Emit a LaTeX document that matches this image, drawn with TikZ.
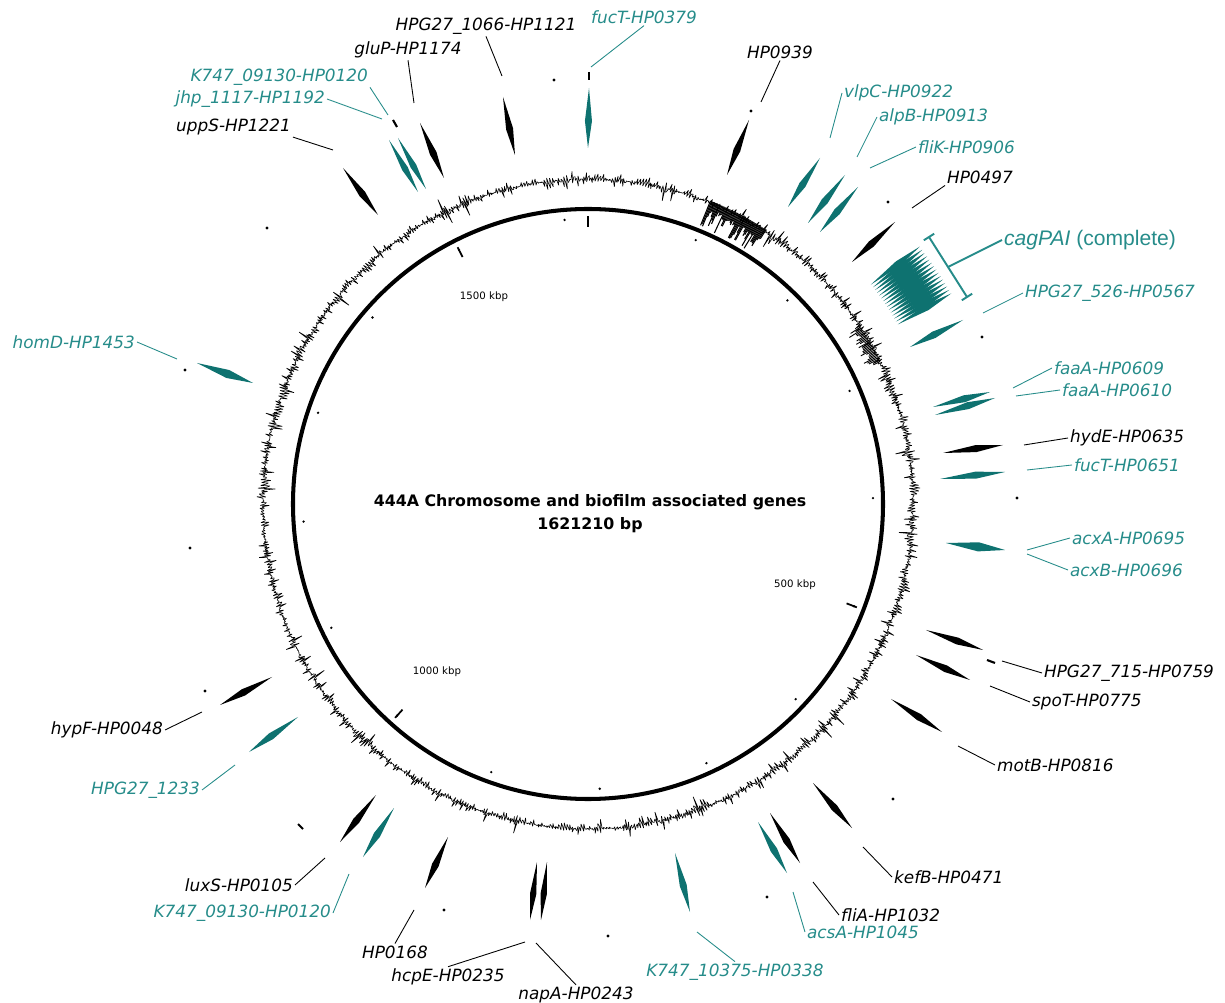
\documentclass[tikz,border=0pt]{standalone}
\usepackage{fontspec}
\setmainfont{DejaVu Sans}[ItalicFont={* Oblique},BoldItalicFont={* Bold Oblique}]
\newfontfamily\cagfont{Liberation Sans}
\usetikzlibrary{calc}
\definecolor{gteal}{RGB}{38,140,138}
\definecolor{gtealdk}{RGB}{14,114,112}
\tikzset{
  lbl/.style={font=\fontsize{9.6}{11}\selectfont\itshape,inner sep=1pt},
  ld/.style={line width=0.5pt},
  gcl/.style={line width=0.35pt,line join=bevel},
  kb/.style={font=\fontsize{5.8}{7}\selectfont,inner sep=0pt},
}
% one gene: colour, end A, end B, half width
\newcommand\gene[4][black]{%
  \fill[#1] (#2) -- ($(#2)!0.55!(#3)!#4!90:(#3)$) -- (#3)
    -- ($(#2)!0.55!(#3)!#4!-90:(#3)$) -- cycle;}

\begin{document}
\begin{tikzpicture}[x=0.02cm,y=-0.02cm]
\useasboundingbox (0,0) rectangle (1225,1003);

% backbone, scale marks and GC plot
\begin{scope}[shift={(588,504)}]
  \draw[line width=2.3pt] (0,0) circle[radius=295];
  \foreach \k in {1,...,16}{\fill ({270+\k*22.205}:285) circle[radius=1.3];}
  \foreach \k in {0,5,10,15}{\draw[line width=1pt] ({270+\k*22.205}:277) -- ({270+\k*22.205}:288);}
  \pgfmathsetseed{1621}
  \def\hp{0}
  \foreach \a in {0,0.5,...,359.5}{
    \pgfmathsetmacro\h{rand*(5+13*rnd*rnd)}
    \draw[gcl] (\a:{325+\hp}) -- ({\a+0.25}:{325+\h}) -- ({\a+0.25}:{325-0.45*\h})
      -- ({\a+0.5}:{325+0.3*\h});
    \pgfmathsetmacro\hp{0.3*\h}
    \xdef\hp{\hp}
  }
  \foreach \a in {292,292.2,...,303}{
    \pgfmathsetmacro\h{6+20*rnd}
    \draw[gcl,line width=0.6pt] (\a:327) -- (\a:{325-\h});
  }
  \foreach \a in {327,327.25,...,334}{
    \pgfmathsetmacro\h{4+12*rnd}
    \draw[gcl,line width=0.5pt] (\a:325) -- (\a:{325-\h});
  }
  % cag pathogenicity island
  \foreach \a in {-37.8,-37.25,...,-30}{\gene[gtealdk]{\a:358}{\a:420}{1.7pt}}
\end{scope}

\node[font=\fontsize{9}{13}\selectfont\bfseries,align=center] (title) at (590,514)
  {444A Chromosome and biofilm associated genes\\1621210 bp};
\node[kb] (k500) at (795,585) {500 kbp};
\node[kb] (k1000) at (437,672) {1000 kbp};
\node[kb] (k1500) at (484,297) {1500 kbp};

% genes
\foreach \col/\xa/\ya/\xb/\yb/\w in {
  black/343/168/378/215/2pt, gtealdk/389/140/418/192/1.8pt, gtealdk/398/138/426/189/1.8pt,
  black/420/123/444/178/2pt, black/503/97/515/155/2pt, gtealdk/589/88/588/148/2pt,
  black/749/120/727/175/2pt, gtealdk/820/158/788/207/2pt, gtealdk/845/175/808/223/2pt,
  gtealdk/858/187/820/232/2pt, black/895/222/852/262/2pt, gtealdk/963/320/910/347/2pt,
  gtealdk/933/407/990/392/2pt, gtealdk/935/415/995/398/2pt, black/943/453/1003/445/2pt,
  gtealdk/940/479/1005/472/2pt, gtealdk/946/543/1005/550/2.6pt, black/926/630/983/650/2pt,
  black/916/655/970/680/2pt, black/891/699/942/732/2pt, black/813/783/852/828/2pt,
  black/770/813/800/863/2pt, gtealdk/758/822/787/873/2pt, gtealdk/675/853/690/912/2pt,
  black/537/862/530/920/1.8pt, black/547/862/541/920/1.8pt, black/448/837/425/888/2pt,
  black/376/795/340/842/2pt, gtealdk/394/808/363/857/2pt, gtealdk/298/717/249/752/2pt,
  black/272/677/220/705/2pt, gtealdk/197/363/253/383/2.4pt}
  {\gene[\col]{\xa,\ya}{\xb,\yb}{\w}}

% small features
\foreach \p in {(554,80),(751,111),(888,202),(982,337),(1017,498),(893,799),(767,897),
  (608,936),(444,910),(205,691),(190,548),(185,370),(267,228)}
  {\fill \p circle[radius=1.6];}
\draw[line width=1.2pt] (589,72) -- (589,80);
\draw[line width=1.2pt] (393,120) -- (397,127);
\draw[line width=1.2pt] (298,824) -- (303,829);
\draw[line width=1.2pt] (987,660) -- (995,663);

% gene labels and leaders
\foreach \n/\col/\an/\x/\y/\txt/\la/\ex/\ey in {
  k747a/gteal/east/370/77/K747\_09130-HP0120/south east/388/115,
  jhp/gteal/east/327/99/jhp\_1117-HP1192/east/382/119,
  upps/black/east/293/127/uppS-HP1221/south east/333/150,
  glup/black/center/408/50/gluP-HP1174/south/414/103,
  hpg1066/black/center/486/26/HPG27\_1066-HP1121/south/502/76,
  fuct379/gteal/center/644/17/fucT-HP0379/south/591/67,
  hp939/black/center/780/52/HP0939/south/761/102,
  vlpc/gteal/west/842/93/vlpC-HP0922/west/830/138,
  alpb/gteal/west/877/117/alpB-HP0913/west/857/157,
  flik/gteal/west/916/147/fliK-HP0906/west/870/168,
  hp497/black/west/945/177/HP0497/south west/912/208,
  hpg526/gteal/west/1023/293/HPG27\_526-HP0567/west/983/313,
  faa609/gteal/west/1052/368/faaA-HP0609/west/1013/388,
  faa610/gteal/west/1060/390/faaA-HP0610/west/1016/396,
  hyde/black/west/1068/438/hydE-HP0635/west/1024/445,
  fuct651/gteal/west/1072/465/fucT-HP0651/west/1027/470,
  acxa/gteal/west/1070/538/acxA-HP0695/west/1027/550,
  acxb/gteal/west/1068/570/acxB-HP0696/west/1027/554,
  hpg715/black/west/1042/673/HPG27\_715-HP0759/west/1002/661,
  spot/black/west/1030/702/spoT-HP0775/west/990/686,
  motb/black/west/995/765/motB-HP0816/west/958/746,
  kefb/black/west/892/877/kefB-HP0471/west/863/847,
  flia/black/west/839/915/fliA-HP1032/west/813/882,
  acsa/gteal/west/805/932/acsA-HP1045/west/793/892,
  k10375/gteal/center/735/972/K747\_10375-HP0338/north/697/932,
  napa/black/center/576/995/napA-HP0243/north/536/943,
  hcpe/black/center/448/977/hcpE-HP0235/north/525/942,
  hp168/black/center/395/952/HP0168/north/414/910,
  luxs/black/east/295/885/luxS-HP0105/east/325/858,
  k747b/gteal/east/333/913/K747\_09130-HP0120/east/349/874,
  hpg1233/gteal/east/202/790/HPG27\_1233/east/235/765,
  hypf/black/east/165/730/hypF-HP0048/east/202/712,
  homd/gteal/east/137/342/homD-HP1453/east/177/359}
{
  \node[lbl,text=\col,anchor=\an] (\n) at (\x,\y) {\txt};
  \coordinate (\n-e) at (\ex,\ey);
  \draw[ld,\col] (\n.\la) -- (\n-e);
}

% cagPAI bracket
\node[font=\cagfont\fontsize{12}{14}\selectfont,text=gteal,anchor=west,inner sep=1pt] (cag)
  at (1002,240) {\textit{cagPAI} (complete)};
\coordinate (cagA) at (929,237);
\coordinate (cagB) at (967,297);
\draw[gteal,line width=1.1pt] (cagA) -- (cagB);
\draw[gteal,line width=1.1pt] ($(cagA)!3.5pt!90:(cagB)$) -- ($(cagA)!3.5pt!-90:(cagB)$);
\draw[gteal,line width=1.1pt] ($(cagB)!3.5pt!90:(cagA)$) -- ($(cagB)!3.5pt!-90:(cagA)$);
\draw[gteal,line width=1.1pt] ($(cagA)!0.5!(cagB)$) -- (cag.west);

\end{tikzpicture}
\end{document}
